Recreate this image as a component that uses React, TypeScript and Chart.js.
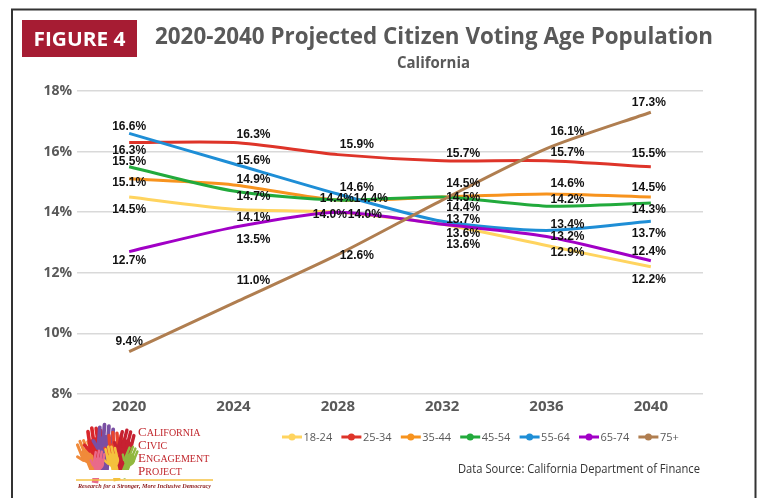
import React, { useEffect, useRef } from "react";
import { Chart, registerables } from "chart.js";

Chart.register(...registerables);

// ---- Data ----
const years = ["2020", "2024", "2028", "2032", "2036", "2040"];
const seriesNames = ["18-24", "25-34", "35-44", "45-54", "55-64", "65-74", "75+"];
const age18to24 = [14.5, 14.1, 14.0, 13.6, 12.9, 12.2];
const age25to34 = [16.3, 16.3, 15.9, 15.7, 15.7, 15.5];
const age35to44 = [15.1, 14.9, 14.4, 14.5, 14.6, 14.5];
const age45to54 = [15.5, 14.7, 14.4, 14.5, 14.2, 14.3];
const age55to64 = [16.6, 15.6, 14.6, 13.7, 13.4, 13.7];
const age65to74 = [12.7, 13.5, 14.0, 13.6, 13.2, 12.4];
const age75plus = [9.4, 11.0, 12.6, 14.4, 16.1, 17.3];
const yTicks = [8, 10, 12, 14, 16, 18];

const seriesValues = [age18to24, age25to34, age35to44, age45to54, age55to64, age65to74, age75plus];

// ---- Styles ----
const seriesColors = ["#FFD45F", "#DE3429", "#F7931E", "#22AA3C", "#1E8ED6", "#A100C6", "#B07E50"];

// data label placement (pixel offsets from each point), per series per year
const labelDy = [
  [13, 9, 2, 20, 7, 13],
  [8, -8, -10, -7, -8, -13],
  [4, -5, -1, -13, -10, -9],
  [-5, 6, -1, 1, -6, 7],
  [-7, -3, -6, -2, -6, 12],
  [9, 12, 2, 9, 0, -9],
  [-10, -22, 1, 8, -17, -10],
];
const labelDx = [
  [0, 20, -8, 21, 21, -2],
  [0, 20, 19, 21, 21, -2],
  [0, 20, 33, 21, 21, -2],
  [0, 20, -1, 21, 21, -2],
  [0, 20, 19, 21, 21, -2],
  [0, 20, 27, 21, 21, -2],
  [0, 20, 19, 21, 21, -2],
];

const dataLabelPlugin = {
  id: "dataLabels",
  afterDatasetsDraw(chart: any) {
    const ctx = chart.ctx;
    ctx.save();
    ctx.font = 'bold 12px "Liberation Sans", Arial, sans-serif';
    ctx.fillStyle = "#111111";
    ctx.textAlign = "center";
    ctx.textBaseline = "middle";
    chart.data.datasets.forEach((ds: any, di: number) => {
      const meta = chart.getDatasetMeta(di);
      meta.data.forEach((pt: any, i: number) => {
        const v = ds.data[i];
        ctx.fillText(v.toFixed(1) + "%", pt.x + labelDx[di][i], pt.y + labelDy[di][i]);
      });
    });
    ctx.restore();
  },
};

function Hand({ x, y, s, r, color }: { x: number; y: number; s: number; r: number; color: string }) {
  const fingers = [-7, -2.5, 2, 6.5];
  const lens = [13, 16, 15, 12];
  return (
    <g transform={`translate(${x},${y}) rotate(${r}) scale(${s})`} fill={color}>
      <ellipse cx={0} cy={6} rx={9} ry={10} />
      {fingers.map((fx, i) => (
        <rect key={i} x={fx - 1.9} y={-lens[i]} width={3.8} height={lens[i] + 6} rx={1.9} />
      ))}
      <rect x={-12} y={0} width={3.6} height={12} rx={1.8} transform="rotate(-35 -10 6)" />
      <rect x={-5} y={10} width={10} height={26} />
    </g>
  );
}

function Logo() {
  return (
    <g>
      <Hand x={86} y={451} s={0.8} r={-22} color="#F08A3A" />
      <Hand x={96} y={441} s={0.95} r={-8} color="#D8262B" />
      <Hand x={106} y={439} s={1.0} r={4} color="#7A4FA3" />
      <Hand x={116} y={445} s={0.9} r={-4} color="#E8452E" />
      <Hand x={126} y={443} s={0.9} r={14} color="#C62031" />
      <Hand x={112} y={456} s={0.7} r={-12} color="#F4C13D" />
      <Hand x={131} y={456} s={0.65} r={22} color="#92B83F" />
      <Hand x={99} y={460} s={0.65} r={10} color="#E96A8A" />
      <rect x={74} y={470} width={66} height={8} fill="#ffffff" />
      <g fill="#C1272D" fontFamily='"Liberation Serif", "DejaVu Serif", serif'>
        <text x={138} y={436}>
          <tspan fontSize={13}>C</tspan>
          <tspan fontSize={10}>ALIFORNIA</tspan>
        </text>
        <text x={138} y={449}>
          <tspan fontSize={13}>C</tspan>
          <tspan fontSize={10}>IVIC</tspan>
        </text>
        <text x={138} y={462}>
          <tspan fontSize={13}>E</tspan>
          <tspan fontSize={10}>NGAGEMENT</tspan>
        </text>
        <text x={138} y={475}>
          <tspan fontSize={13}>P</tspan>
          <tspan fontSize={10}>ROJECT</tspan>
        </text>
      </g>
      <line x1={76} y1={480} x2={213} y2={480} stroke="#F5C242" strokeWidth={1.5} />
      <text
        x={78}
        y={488}
        fontSize={6.5}
        fontStyle="italic"
        fontWeight="bold"
        fill="#8B1A1A"
        fontFamily='"Liberation Serif", serif'
        textLength={133}
        lengthAdjust="spacingAndGlyphs"
      >
        Research for a Stronger, More Inclusive Democracy
      </text>
    </g>
  );
}

function Legend() {
  const x0 = 282;
  const pitch = 59.4;
  return (
    <g>
      {seriesNames.map((name, i) => {
        const x = x0 + i * pitch;
        return (
          <g key={name}>
            <line x1={x} y1={437} x2={x + 20} y2={437} stroke={seriesColors[i]} strokeWidth={3} />
            <circle cx={x + 10} cy={437} r={3.5} fill={seriesColors[i]} />
            <text
              x={x + 21.5}
              y={441}
              fontSize={11}
              fill="#595959"
              fontFamily='"Liberation Sans Narrow", "Open Sans", sans-serif'
            >
              {name}
            </text>
          </g>
        );
      })}
    </g>
  );
}

export default function App() {
  const canvasRef = useRef<HTMLCanvasElement | null>(null);

  useEffect(() => {
    if (!canvasRef.current) return;
    const chart = new Chart(canvasRef.current, {
      type: "line",
      data: {
        labels: years,
        datasets: seriesNames.map((name, i) => ({
          label: name,
          data: seriesValues[i],
          borderColor: seriesColors[i],
          backgroundColor: seriesColors[i],
          borderWidth: 3,
          pointRadius: 0,
          tension: 0.25,
          fill: false,
          order: seriesNames.length - i,
        })),
      },
      options: {
        animation: false,
        responsive: false,
        devicePixelRatio: 1,
        layout: { padding: { left: 0, right: 59, top: 91, bottom: 74 } },
        plugins: {
          legend: { display: false },
          tooltip: { enabled: false },
          title: { display: false },
        },
        scales: {
          x: {
            type: "category",
            offset: true,
            grid: { display: false, drawTicks: false },
            border: { display: false },
            ticks: {
              color: "#595959",
              font: { family: '"Open Sans", sans-serif', weight: "bold", size: 15 },
              padding: 4,
            },
            afterFit: (scale: any) => {
              scale.height = 30;
            },
          },
          y: {
            min: 8,
            max: 18,
            afterBuildTicks: (scale: any) => {
              scale.ticks = yTicks.map((v) => ({ value: v }));
            },
            ticks: {
              color: "#595959",
              font: { family: '"Open Sans", sans-serif', weight: "bold", size: 14 },
              padding: 5,
              callback: (v: any) => v + "%",
            },
            grid: { color: "#D9D9D9", lineWidth: 1.5, drawTicks: false },
            border: { display: false },
            afterFit: (scale: any) => {
              scale.width = 77;
            },
          },
        },
      } as any,
      plugins: [dataLabelPlugin],
    });
    return () => chart.destroy();
  }, []);

  return (
    <div style={{ position: "fixed", left: 0, top: 0, width: 762, height: 498, background: "#ffffff", overflow: "hidden" }}>
      <canvas ref={canvasRef} width={762} height={498} style={{ position: "absolute", left: 0, top: 0, width: 762, height: 498 }} />
      <svg width={762} height={498} style={{ position: "absolute", left: 0, top: 0, pointerEvents: "none" }}>
        {/* frame */}
        <path d="M12 500 L12 9.5 L755.5 9.5 L755.5 500" fill="none" stroke="#333333" strokeWidth={2} />
        {/* figure badge */}
        <rect x={22} y={20} width={115} height={37} fill="#A61C33" />
        <text
          x={79.5}
          y={46}
          textAnchor="middle"
          fontSize={20}
          fontWeight="bold"
          fill="#ffffff"
          fontFamily='"Open Sans", sans-serif'
          textLength={92}
          lengthAdjust="spacingAndGlyphs"
        >
          FIGURE 4
        </text>
        <text
          x={155}
          y={44}
          fontSize={23}
          fontWeight="bold"
          fill="#595959"
          fontFamily='"Open Sans", sans-serif'
          textLength={558}
          lengthAdjust="spacingAndGlyphs"
        >
          2020-2040 Projected Citizen Voting Age Population
        </text>
        <text
          x={397}
          y={68}
          fontSize={16}
          fontWeight="bold"
          fill="#595959"
          fontFamily='"Open Sans", sans-serif'
          textLength={73}
          lengthAdjust="spacingAndGlyphs"
        >
          California
        </text>
        <Legend />
        <Logo />
        <text
          x={458}
          y={473}
          fontSize={13}
          fill="#333333"
          fontFamily='"Liberation Sans Narrow", "Open Sans", sans-serif'
          textLength={242}
          lengthAdjust="spacingAndGlyphs"
        >
          Data Source: California Department of Finance
        </text>
      </svg>
    </div>
  );
}
